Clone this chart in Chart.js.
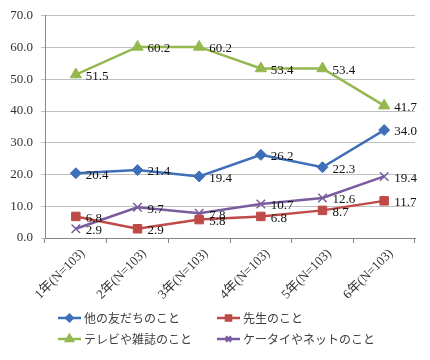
<!DOCTYPE html>
<html>
<head>
<meta charset="utf-8">
<script src="https://cdn.jsdelivr.net/npm/chart.js@4"></script>
<style>
  html, body { margin: 0; padding: 0; background: #fff; }
  #wrap { width: 430px; height: 360px; }
</style>
</head>
<body>
<div id="wrap"><canvas id="chart" width="430" height="360"></canvas></div>
<script>
// categories and series
const grades = ['1年(N=103)', '2年(N=103)', '3年(N=103)', '4年(N=103)', '5年(N=103)', '6年(N=103)'];
const friends = [20.4, 21.4, 19.4, 26.2, 22.3, 34.0];   // 他の友だちのこと
const teacher = [6.8, 2.9, 5.8, 6.8, 8.7, 11.7];        // 先生のこと
const tvMagazine = [51.5, 60.2, 60.2, 53.4, 53.4, 41.7]; // テレビや雑誌のこと
const phoneNet = [2.9, 9.7, 7.8, 10.7, 12.6, 19.4];     // ケータイやネットのこと
const yTicks = [0, 10, 20, 30, 40, 50, 60, 70];

const serif = '"Liberation Serif", "DejaVu Serif", "Noto Sans CJK JP", serif';
const gothic = '"Noto Sans CJK JP", sans-serif';

function series(label, data, color, style, radius) {
    return {
        label: label,
        data: data,
        borderColor: color,
        backgroundColor: color,
        borderWidth: 2.5,
        pointStyle: style,
        pointRadius: radius,
        pointHoverRadius: radius,
        pointBorderWidth: style === 'crossRot' ? 1.5 : 1,
        tension: 0
    };
}

// value labels to the right of each point
const valueLabels = {
    id: 'valueLabels',
    afterDatasetsDraw(chart) {
        const c = chart.ctx;
        c.save();
        c.font = '13px ' + serif;
        c.fillStyle = '#111';
        c.textBaseline = 'middle';
        c.textAlign = 'left';
        chart.data.datasets.forEach((ds, i) => {
            chart.getDatasetMeta(i).data.forEach((pt, j) => {
                c.fillText(ds.data[j].toFixed(1), pt.x + 10, pt.y + 2);
            });
        });
        c.restore();
    }
};

// two-column legend at the bottom
const gridLegend = {
    id: 'gridLegend',
    afterDraw(chart) {
        const c = chart.ctx;
        const cols = [58, 217];
        const rows = [318, 339];
        c.save();
        chart.data.datasets.forEach((ds, i) => {
            const x = cols[i % 2];
            const y = rows[Math.floor(i / 2)];
            c.strokeStyle = ds.borderColor;
            c.lineWidth = 2.5;
            c.beginPath();
            c.moveTo(x, y);
            c.lineTo(x + 23, y);
            c.stroke();
            Chart.helpers.drawPoint(c, {
                pointStyle: ds.pointStyle,
                radius: ds.pointRadius * 0.6,
                borderWidth: 1
            }, x + 11.5, y);
            c.fillStyle = ds.borderColor;
            c.fill();
            c.fillStyle = '#404040';
            c.font = '12px ' + gothic;
            c.textBaseline = 'middle';
            c.fillText(ds.label, x + 26, y);
        });
        c.restore();
    }
};

new Chart(document.getElementById('chart'), {
    type: 'line',
    data: {
        labels: grades,
        datasets: [
            series('他の友だちのこと', friends, '#3f6fb8', 'rectRot', 5.5),
            series('先生のこと', teacher, '#be4b48', 'rect', 6),
            series('テレビや雑誌のこと', tvMagazine, '#94b84e', 'triangle', 6.5),
            series('ケータイやネットのこと', phoneNet, '#7a5c9e', 'crossRot', 6)
        ]
    },
    options: {
        responsive: false,
        animation: false,
        layout: { padding: { top: 14, right: 15, bottom: 60, left: 0 } },
        plugins: {
            legend: { display: false },
            tooltip: { enabled: false }
        },
        scales: {
            x: {
                offset: true,
                grid: { offset: true, drawOnChartArea: false, tickLength: 5, color: '#868686' },
                border: { color: '#868686' },
                ticks: {
                    minRotation: 45,
                    maxRotation: 45,
                    color: '#333',
                    font: { family: serif, size: 13 },
                    padding: 3,
                    labelOffset: 7
                },
                afterFit(scale) { scale.height = 62; }
            },
            y: {
                min: 0,
                max: 70,
                afterBuildTicks(scale) { scale.ticks = yTicks.map(v => ({ value: v })); },
                grid: { color: '#c0c0c0', tickLength: 4 },
                border: { color: '#868686' },
                ticks: {
                    color: '#333',
                    font: { family: serif, size: 13 },
                    padding: 8,
                    callback: v => v.toFixed(1)
                },
                afterFit(scale) { scale.width = 45; }
            }
        }
    },
    plugins: [valueLabels, gridLegend]
});
</script>
</body>
</html>
